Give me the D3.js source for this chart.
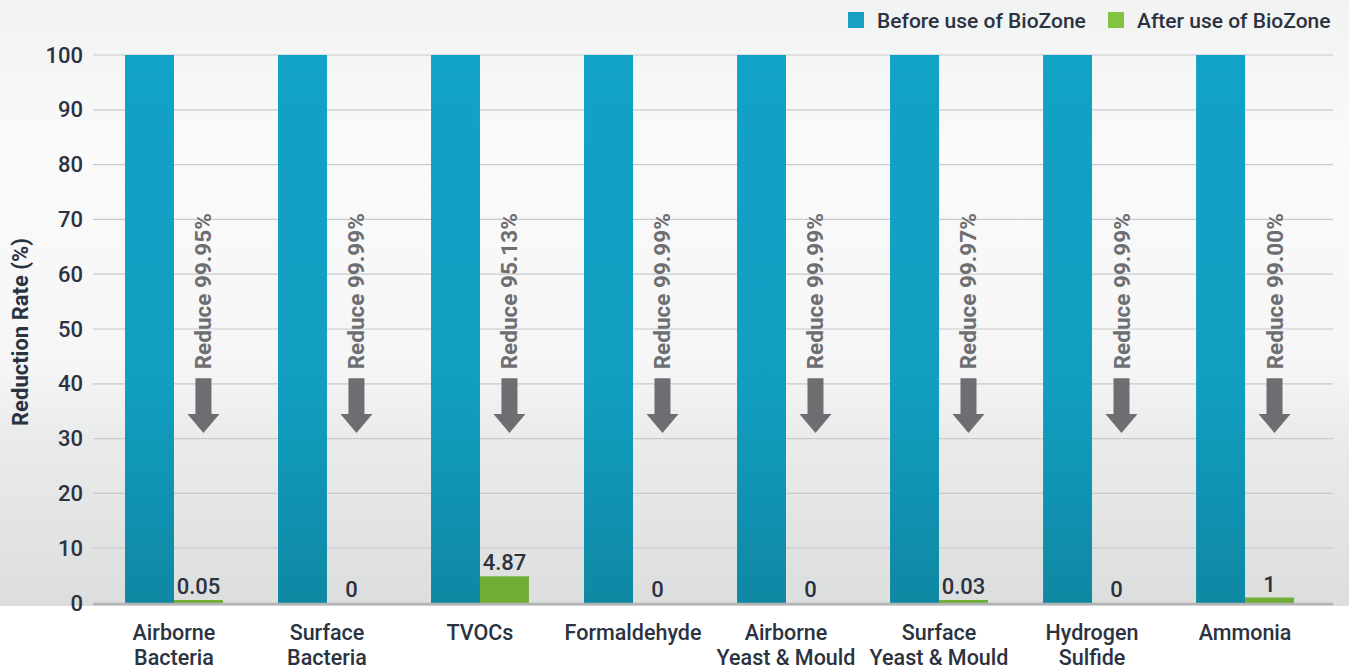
<!DOCTYPE html>
<html>
<head>
<meta charset="utf-8">
<script src="https://cdn.jsdelivr.net/npm/d3@7"></script>
<style>
  body { margin: 0; background: #ffffff; }
  svg { display: block; font-family: Roboto, "DejaVu Sans", sans-serif; }
</style>
</head>
<body>
<div id="chart"></div>
<script>
// Data
const categories = [
  ["Airborne", "Bacteria"],
  ["Surface", "Bacteria"],
  ["TVOCs"],
  ["Formaldehyde"],
  ["Airborne", "Yeast & Mould"],
  ["Surface", "Yeast & Mould"],
  ["Hydrogen", "Sulfide"],
  ["Ammonia"]
];
const beforeValues = [100, 100, 100, 100, 100, 100, 100, 100];
const afterValues = [0.05, 0, 4.87, 0, 0, 0.03, 0, 1];
const afterLabels = ["0.05", "0", "4.87", "0", "0", "0.03", "0", "1"];
const reduceLabels = ["99.95%", "99.99%", "95.13%", "99.99%", "99.99%", "99.97%", "99.99%", "99.00%"];
const yTicks = [0, 10, 20, 30, 40, 50, 60, 70, 80, 90, 100];
const seriesNames = ["Before use of BioZone", "After use of BioZone"];

const W = 1349, H = 670;
const textColor = "#2b3240";
const arrowColor = "#6d6e71";

const svg = d3.select("#chart").append("svg")
  .attr("width", W)
  .attr("height", H);

const defs = svg.append("defs");

// background gradient
const bg = defs.append("linearGradient")
  .attr("id", "bg").attr("x1", 0).attr("y1", 0).attr("x2", 0).attr("y2", 1);
bg.append("stop").attr("offset", "0").attr("stop-color", "#f1f2f2");
bg.append("stop").attr("offset", "0.25").attr("stop-color", "#fafafa");
bg.append("stop").attr("offset", "0.6").attr("stop-color", "#f6f6f6");
bg.append("stop").attr("offset", "0.72").attr("stop-color", "#eaebeb");
bg.append("stop").attr("offset", "1").attr("stop-color", "#dcdddd");

const blueGrad = defs.append("linearGradient")
  .attr("id", "blueGrad").attr("x1", 0).attr("y1", 0).attr("x2", 0).attr("y2", 1);
blueGrad.append("stop").attr("offset", "0").attr("stop-color", "#12a2c6");
blueGrad.append("stop").attr("offset", "0.6").attr("stop-color", "#119ec1");
blueGrad.append("stop").attr("offset", "1").attr("stop-color", "#0f88a3");

svg.append("rect")
  .attr("x", 0).attr("y", 0)
  .attr("width", W).attr("height", 606)
  .attr("fill", "url(#bg)");

// scales
const x = d3.scaleBand()
  .domain(d3.range(categories.length))
  .range([97, 1322])
  .paddingInner(0.36)
  .paddingOuter(0.183);

const xSub = d3.scaleBand()
  .domain([0, 1])
  .range([0, x.bandwidth()]);

const y = d3.scaleLinear()
  .domain([0, 100])
  .range([603, 55]);

// gridlines
svg.append("g")
  .selectAll("line")
  .data(yTicks.filter(d => d > 0))
  .enter()
  .append("line")
  .attr("x1", 93).attr("x2", 1333)
  .attr("y1", d => y(d)).attr("y2", d => y(d))
  .attr("stroke", "#c9cacb")
  .attr("stroke-width", 1.2);

// y axis labels
const yAxis = svg.append("g")
  .attr("transform", "translate(83,0)")
  .call(d3.axisLeft(y).tickValues(yTicks).tickSize(0).tickPadding(0));
yAxis.select(".domain").remove();
yAxis.selectAll("text")
  .attr("font-family", "Roboto, sans-serif")
  .attr("font-size", "22px")
  .attr("font-weight", 500)
  .attr("fill", textColor);

svg.append("text")
  .attr("transform", "translate(28," + (y(50) + 3) + ") rotate(-90)")
  .attr("text-anchor", "middle")
  .attr("font-size", "22px")
  .attr("font-weight", "bold")
  .attr("fill", textColor)
  .text("Reduction Rate (%)");

const groups = svg.append("g")
  .selectAll("g")
  .data(categories)
  .enter()
  .append("g")
  .attr("transform", (d, i) => "translate(" + x(i) + ",0)");

// before bars
groups.append("rect")
  .attr("x", xSub(0))
  .attr("y", (d, i) => y(beforeValues[i]))
  .attr("width", xSub.bandwidth())
  .attr("height", (d, i) => y(0) - y(beforeValues[i]))
  .attr("fill", "url(#blueGrad)");

// after bars (tiny values kept visible)
const afterTop = i => afterValues[i] > 0 ? Math.min(y(afterValues[i]), y(0) - 3) : y(0);
groups.append("rect")
  .attr("x", xSub(1))
  .attr("y", (d, i) => afterTop(i))
  .attr("width", xSub.bandwidth())
  .attr("height", (d, i) => y(0) - afterTop(i))
  .attr("fill", "#6fae35");

// value labels
groups.append("text")
  .attr("x", xSub(1) + xSub.bandwidth() / 2)
  .attr("y", (d, i) => afterTop(i) - 6)
  .attr("text-anchor", "middle")
  .attr("font-size", "22px")
  .attr("font-weight", 500)
  .attr("fill", textColor)
  .text((d, i) => afterLabels[i]);

// arrows
const arrowX = xSub(1) + xSub.bandwidth() / 2 + 5;
groups.append("path")
  .attr("d", () => {
    const t = y(41), m = y(34.5), b = y(31);
    return "M" + (arrowX - 8) + "," + t + "H" + (arrowX + 8) + "V" + m +
      "H" + (arrowX + 16) + "L" + arrowX + "," + b + "L" + (arrowX - 16) + "," + m +
      "H" + (arrowX - 8) + "Z";
  })
  .attr("fill", arrowColor);

groups.append("text")
  .attr("transform", "translate(" + (arrowX + 8) + "," + (y(41) - 9) + ") rotate(-90)")
  .attr("text-anchor", "start")
  .attr("font-size", "22.5px")
  .attr("font-weight", "bold")
  .attr("fill", arrowColor)
  .text((d, i) => "Reduce " + reduceLabels[i]);

// zero axis line
svg.append("line")
  .attr("x1", 93).attr("x2", 1333)
  .attr("y1", y(0) + 1).attr("y2", y(0) + 1)
  .attr("stroke", "#b3b4b5")
  .attr("stroke-width", 2.5);

// category labels
groups.append("text")
  .attr("x", x.bandwidth() / 2)
  .attr("text-anchor", "middle")
  .attr("font-size", "21.5px")
  .attr("font-weight", 500)
  .attr("fill", textColor)
  .selectAll("tspan")
  .data(d => d)
  .enter()
  .append("tspan")
  .attr("x", x.bandwidth() / 2)
  .attr("y", (d, j) => 640 + j * 25)
  .text(d => d);

// legend
const legend = svg.append("g");
const legendItems = [
  { name: seriesNames[0], color: "#17a0c4", x: 848 },
  { name: seriesNames[1], color: "#83c341", x: 1108 }
];
legend.selectAll("rect")
  .data(legendItems)
  .enter()
  .append("rect")
  .attr("x", d => d.x).attr("y", 12)
  .attr("width", 16).attr("height", 16)
  .attr("fill", d => d.color);
legend.selectAll("text")
  .data(legendItems)
  .enter()
  .append("text")
  .attr("x", d => d.x + 29).attr("y", 28)
  .attr("font-size", "21px")
  .attr("font-weight", 500)
  .attr("fill", textColor)
  .text(d => d.name);
</script>
</body>
</html>
